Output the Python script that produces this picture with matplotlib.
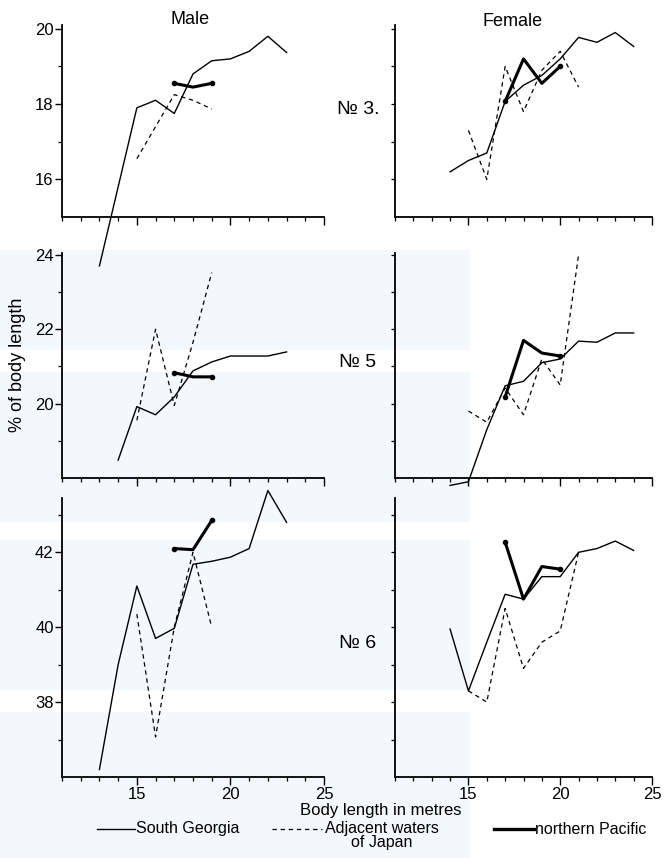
import matplotlib
matplotlib.use("Agg")
import matplotlib.pyplot as plt
from matplotlib.ticker import MultipleLocator, FixedLocator
from matplotlib.patches import Rectangle

plt.rcParams['font.family'] = ['Liberation Sans', 'DejaVu Sans']

# body length (m) and measurement as % of body length
# No 3 - male
m3_sg_x = [13, 14, 15, 16, 17, 18, 19, 20, 21, 22, 23]
m3_sg_y = [13.7, 15.8, 17.9, 18.1, 17.75, 18.8, 19.15, 19.2, 19.4, 19.8, 19.37]
m3_jp_x = [15, 16, 17, 18, 19]
m3_jp_y = [16.55, 17.4, 18.25, 18.1, 17.87]
m3_np_x = [17, 18, 19]
m3_np_y = [18.55, 18.45, 18.55]

# No 3 - female
f3_sg_x = [14, 15, 16, 17, 18, 19, 20, 21, 22, 23, 24]
f3_sg_y = [16.2, 16.5, 16.7, 18.07, 18.5, 18.76, 19.2, 19.77, 19.64, 19.9, 19.53]
f3_jp_x = [15, 16, 17, 18, 19, 20, 21]
f3_jp_y = [17.3, 16.0, 19.0, 17.8, 18.9, 19.4, 18.45]
f3_np_x = [17, 18, 19, 20]
f3_np_y = [18.07, 19.2, 18.55, 19.0]

# No 5 - male
m5_sg_x = [14, 15, 16, 17, 18, 19, 20, 21, 22, 23]
m5_sg_y = [18.48, 19.92, 19.7, 20.18, 20.88, 21.12, 21.28, 21.28, 21.28, 21.39]
m5_jp_x = [15, 16, 17, 18, 19]
m5_jp_y = [19.55, 22.0, 19.95, 21.65, 23.52]
m5_np_x = [17, 18, 19]
m5_np_y = [20.83, 20.72, 20.72]

# No 5 - female
f5_sg_x = [14, 15, 16, 17, 18, 19, 20, 21, 22, 23, 24]
f5_sg_y = [17.8, 17.9, 19.3, 20.48, 20.6, 21.1, 21.2, 21.68, 21.65, 21.9, 21.9]
f5_jp_x = [15, 16, 17, 18, 19, 20, 21]
f5_jp_y = [19.8, 19.5, 20.42, 19.7, 21.2, 20.5, 24.0]
f5_np_x = [17, 18, 19, 20]
f5_np_y = [20.18, 21.7, 21.36, 21.28]

# No 6 - male
m6_sg_x = [13, 14, 15, 16, 17, 18, 19, 20, 21, 22, 23]
m6_sg_y = [36.2, 39.0, 41.1, 39.7, 39.97, 41.68, 41.76, 41.87, 42.1, 43.65, 42.8]
m6_jp_x = [15, 16, 17, 18, 19]
m6_jp_y = [40.35, 37.07, 40.0, 42.0, 40.0]
m6_np_x = [17, 18, 19]
m6_np_y = [42.1, 42.07, 42.85]

# No 6 - female
f6_sg_x = [14, 15, 16, 17, 18, 19, 20, 21, 22, 23, 24]
f6_sg_y = [39.95, 38.3, 39.6, 40.88, 40.75, 41.35, 41.35, 42.0, 42.1, 42.3, 42.05]
f6_jp_x = [15, 16, 17, 18, 19, 20, 21]
f6_jp_y = [38.3, 38.0, 40.5, 38.9, 39.6, 39.9, 42.0]
f6_np_x = [17, 18, 19, 20]
f6_np_y = [42.27, 40.75, 41.62, 41.55]

row_ylims = [(15, 20.1), (18, 24.05), (36, 43.45)]
row_labels = [[16, 18, 20], [20, 22, 24], [38, 40, 42]]
row_names = ['№ 3.', '№ 5', '№ 6']
x_labels = [15, 20, 25]
legend_names = ['South Georgia', 'Adjacent waters\nof Japan', 'northern Pacific']

W, H = 665, 858
fig = plt.figure(figsize=(W / 100, H / 100), dpi=100)


def frac(x0, y_bottom, w, h):
    return [x0 / W, 1 - y_bottom / H, w / W, h / H]


# faint background print
bg = fig.add_axes([0, 0, 1, 1], zorder=-5)
bg.set_xlim(0, W)
bg.set_ylim(H, 0)
bg.axis('off')
pale = '#f2f8fc'
for (x0, y0, w, h) in [(0, 250, 470, 100), (0, 372, 470, 150), (0, 540, 470, 150),
                       (0, 712, 470, 146)]:
    bg.add_patch(Rectangle((x0, y0), w, h, color=pale, lw=0))

col_left = [62, 395]
col_width = [262, 257]
row_bottom = [217, 478, 777]
row_height = [192, 225, 279]

panels = [
    [(m3_sg_x, m3_sg_y, m3_jp_x, m3_jp_y, m3_np_x, m3_np_y),
     (f3_sg_x, f3_sg_y, f3_jp_x, f3_jp_y, f3_np_x, f3_np_y)],
    [(m5_sg_x, m5_sg_y, m5_jp_x, m5_jp_y, m5_np_x, m5_np_y),
     (f5_sg_x, f5_sg_y, f5_jp_x, f5_jp_y, f5_np_x, f5_np_y)],
    [(m6_sg_x, m6_sg_y, m6_jp_x, m6_jp_y, m6_np_x, m6_np_y),
     (f6_sg_x, f6_sg_y, f6_jp_x, f6_jp_y, f6_np_x, f6_np_y)],
]

for r in range(3):
    for c in range(2):
        ax = fig.add_axes(frac(col_left[c], row_bottom[r], col_width[c], row_height[r]))
        ax.patch.set_alpha(0)
        sgx, sgy, jpx, jpy, npx, npy = panels[r][c]
        ax.plot(sgx, sgy, color='black', lw=1.0, clip_on=False)
        ax.plot(jpx, jpy, color='black', lw=0.9, dashes=(3.5, 3), clip_on=False)
        ax.plot(npx, npy, color='black', lw=2.2, clip_on=False,
                solid_capstyle='round')
        ax.plot([npx[0], npx[-1]], [npy[0], npy[-1]], ls='none', marker='o',
                ms=3, color='black', clip_on=False)
        ax.set_xlim(11, 25)
        ax.set_ylim(*row_ylims[r])
        for s in ['top', 'right']:
            ax.spines[s].set_visible(False)
        ax.spines['left'].set_linewidth(1.3)
        ax.spines['bottom'].set_linewidth(1.3)
        ax.xaxis.set_major_locator(FixedLocator(x_labels))
        ax.xaxis.set_minor_locator(MultipleLocator(1))
        ax.tick_params(axis='x', which='major', length=6, width=1.0, direction='out')
        ax.tick_params(axis='x', which='minor', length=3, width=0.9, direction='out')
        lo = int(row_ylims[r][0]) + 1
        hi = int(row_ylims[r][1])
        ax.yaxis.set_minor_locator(FixedLocator(list(range(lo, hi + 1))))
        ax.tick_params(axis='y', which='minor', length=3, width=0.9, direction='out')
        if c == 0:
            ax.yaxis.set_major_locator(FixedLocator(row_labels[r]))
            ax.tick_params(axis='y', which='major', length=5, width=1.0,
                           labelsize=12, pad=1)
        else:
            ax.yaxis.set_major_locator(FixedLocator([]))
        if r == 2:
            ax.tick_params(axis='x', which='major', labelsize=12, pad=1)
        else:
            ax.tick_params(axis='x', which='major', labelbottom=False)

fig.text(190 / W, 1 - 20 / H, 'Male', ha='center', va='center', fontsize=13)
fig.text(513 / W, 1 - 22 / H, 'Female', ha='center', va='center', fontsize=13)
for name, yy in zip(row_names, [110, 362, 643]):
    fig.text(358 / W, 1 - yy / H, name, ha='center', va='center', fontsize=14)

fig.text(18 / W, 1 - 365 / H, '% of body length', rotation=90,
         ha='center', va='center', fontsize=13)
fig.text(381 / W, 1 - 811 / H, 'Body length in metres', ha='center',
         va='center', fontsize=12)

# key below the panels
key = fig.add_axes([0, 0, 1, 1], zorder=5)
key.set_xlim(0, W)
key.set_ylim(H, 0)
key.axis('off')
ky = 829
key.plot([97, 135], [ky, ky], color='black', lw=1.0)
key.text(136, ky, legend_names[0], va='center', ha='left', fontsize=11.5)
key.plot([272, 322], [ky, ky], color='black', lw=0.9, dashes=(3.5, 3))
key.text(382, ky - 8, legend_names[1], va='top', ha='center', fontsize=11.5,
         linespacing=0.9, multialignment='center')
key.plot([494, 534], [ky, ky], color='black', lw=2.4)
key.text(535, ky, legend_names[2], va='center', ha='left', fontsize=11.5)

fig.savefig('out.png', dpi=100)
